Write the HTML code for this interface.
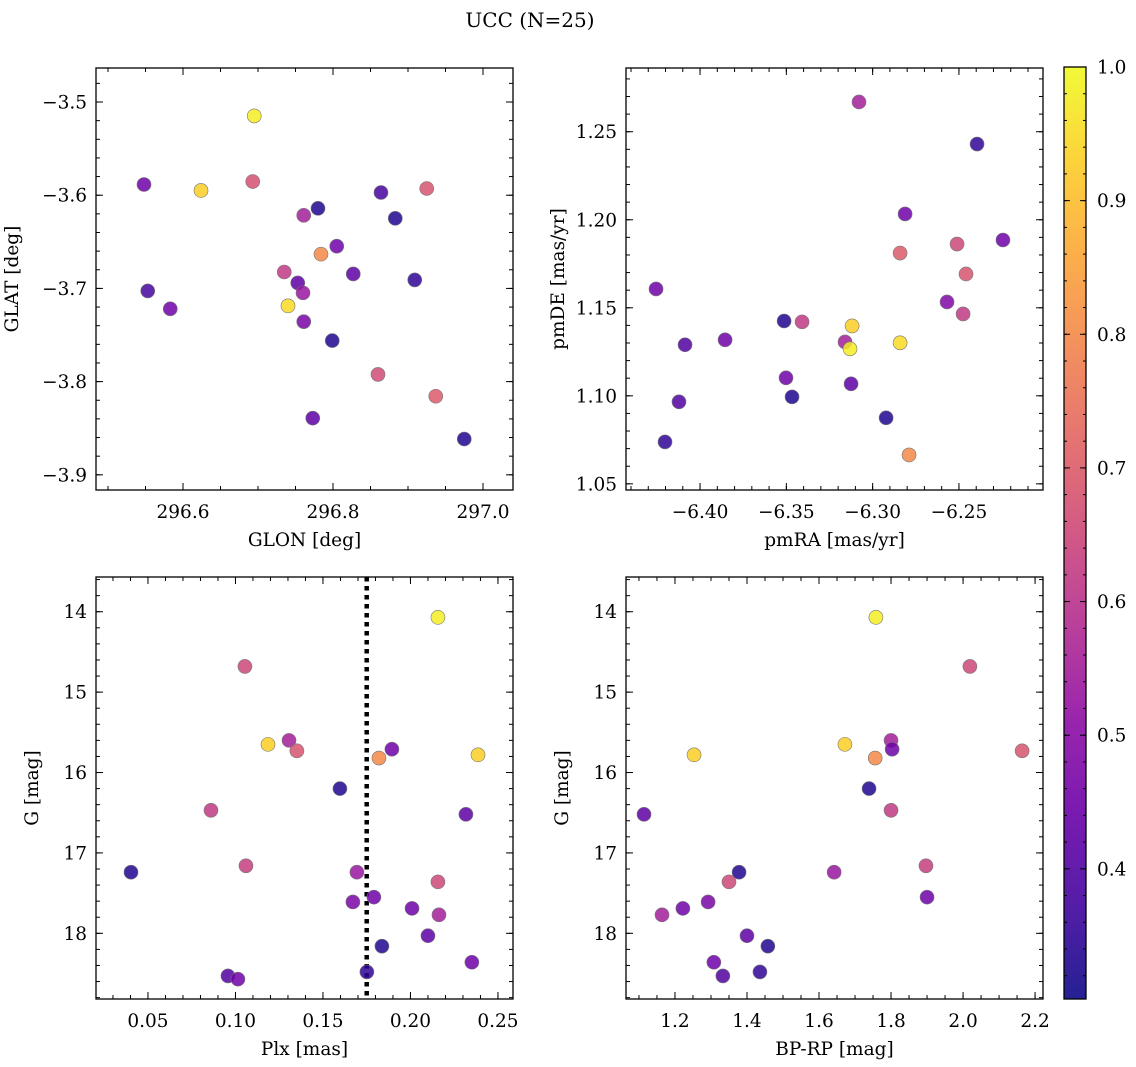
<!DOCTYPE html>
<html><head><meta charset="utf-8">
<style>
html,body{margin:0;padding:0;background:#fff;}
svg{display:block;font-family:"DejaVu Serif","Liberation Serif",serif;}
</style></head>
<body>
<svg id="fig" width="1136" height="1067" viewBox="0 0 1136 1067" xmlns="http://www.w3.org/2000/svg">
<text x="530" y="27" font-size="20" text-anchor="middle">UCC (N=25)</text>
</svg>
<script>
// ---- data ----
const glon = [296.695,296.548,296.624,296.693,296.925,296.864,296.780,296.761,296.883,296.805,296.784,296.735,296.827,296.753,296.909,296.553,296.740,296.760,296.583,296.761,296.799,296.860,296.937,296.773,296.975];
const glat = [-3.5149,-3.5885,-3.5949,-3.5853,-3.5928,-3.5971,-3.6141,-3.6216,-3.6248,-3.6547,-3.6632,-3.6824,-3.6845,-3.6941,-3.6909,-3.7027,-3.7187,-3.7048,-3.7219,-3.7357,-3.756,-3.7923,-3.8157,-3.8392,-3.8616];
const probA = [0.98,0.45,0.93,0.67,0.68,0.38,0.33,0.55,0.33,0.45,0.80,0.62,0.42,0.42,0.35,0.38,0.95,0.53,0.45,0.47,0.33,0.66,0.70,0.42,0.33];

const pmra = [-6.3079,-6.2395,-6.2812,-6.2245,-6.2511,-6.2841,-6.2459,-6.4255,-6.2569,-6.2476,-6.3513,-6.3409,-6.3119,-6.316,-6.2841,-6.3855,-6.4087,-6.3131,-6.3502,-6.3125,-6.3467,-6.4122,-6.2922,-6.4203,-6.2789];
const pmde = [1.2669,1.243,1.2033,1.1885,1.1862,1.1811,1.1692,1.1607,1.1533,1.1465,1.1425,1.142,1.1397,1.1306,1.1301,1.1318,1.129,1.1267,1.1102,1.1068,1.0994,1.0966,1.0875,1.0738,1.0664];
const probB = [0.55,0.35,0.45,0.45,0.65,0.70,0.68,0.45,0.48,0.62,0.33,0.62,0.93,0.55,0.95,0.45,0.40,0.98,0.45,0.42,0.33,0.40,0.33,0.35,0.80];

const plx = [0.2157,0.1054,0.1306,0.1186,0.1351,0.1894,0.2386,0.182,0.1597,0.086,0.2317,0.106,0.0403,0.1694,0.2157,0.1791,0.1671,0.2009,0.2163,0.21,0.1837,0.2351,0.1751,0.0957,0.1014];
const gmag = [14.07,14.68,15.60,15.65,15.73,15.71,15.78,15.82,16.2,16.47,16.52,17.16,17.24,17.24,17.36,17.55,17.61,17.69,17.77,18.03,18.16,18.36,18.48,18.53,18.57];
const probC = [0.98,0.65,0.55,0.93,0.68,0.45,0.93,0.80,0.33,0.62,0.42,0.63,0.33,0.53,0.65,0.45,0.47,0.45,0.55,0.42,0.33,0.45,0.35,0.40,0.45];

const bprp = [1.758,2.019,1.80,1.672,2.164,1.803,1.253,1.756,1.739,1.80,1.114,1.897,1.378,1.642,1.35,1.90,1.292,1.222,1.164,1.40,1.458,1.308,1.436,1.333];
const gmag4 = [14.07,14.68,15.60,15.65,15.73,15.71,15.78,15.82,16.2,16.47,16.52,17.16,17.24,17.24,17.36,17.55,17.61,17.69,17.77,18.03,18.16,18.36,18.48,18.53];
const probD = [0.98,0.65,0.55,0.93,0.68,0.45,0.93,0.80,0.33,0.62,0.42,0.63,0.33,0.53,0.65,0.45,0.47,0.45,0.55,0.42,0.33,0.45,0.35,0.40];

const plxCut = 0.175;
const cbTicks = [0.4,0.5,0.6,0.7,0.8,0.9,1.0];
const cbMin = 0.3026, cbMax = 1.0;

// ---- helpers ----
const NS = "http://www.w3.org/2000/svg";
const svg = document.getElementById('fig');
function mk(tag, attrs, parent){const e=document.createElementNS(NS,tag);for(const k in attrs)e.setAttribute(k,attrs[k]);(parent||svg).appendChild(e);return e;}
const stops=[[13,8,135],[65,4,157],[106,0,168],[143,13,164],[177,42,144],[204,71,120],[225,100,98],[242,132,75],[252,166,54],[252,206,37],[240,249,33]];
function plasma(t){t=Math.max(0,Math.min(1,t));const s=t*10,i=Math.min(9,Math.floor(s)),f=s-i;const a=stops[i],b=stops[i+1];return `rgb(${Math.round(a[0]+(b[0]-a[0])*f)},${Math.round(a[1]+(b[1]-a[1])*f)},${Math.round(a[2]+(b[2]-a[2])*f)})`;}
function cval(v){return plasma((v-cbMin)/(cbMax-cbMin));}
function fmt(v,d){const s=Math.abs(v).toFixed(d);return (v<-1e-9?"\u2212":"")+s;}

const FS = 18.5;
function panel(cfg){
  const {x0,y0,x1,y1,xmin,xmax,ymin,ymax,invY,name}=cfg;
  const g=mk('g',{});
  
  
  const sx=v=>x0+(v-xmin)/(xmax-xmin)*(x1-x0);
  const sy=v=>invY? y0+(v-ymin)/(ymax-ymin)*(y1-y0) : y1-(v-ymin)/(ymax-ymin)*(y1-y0);
  const tg=mk('g',{stroke:'#000','stroke-width':1},g);
  function ticksX(step,len,labels,dec){
    const st=Math.ceil(xmin/step-1e-6);
    for(let k=st;k*step<=xmax+1e-9;k++){const v=k*step,x=sx(v);
      mk('line',{x1:x,x2:x,y1:y1,y2:y1-len},tg);mk('line',{x1:x,x2:x,y1:y0,y2:y0+len},tg);
      if(labels){const t=mk('text',{x:x,y:y1+28,'font-size':FS,'text-anchor':'middle',stroke:'none',fill:'#000'},g);t.textContent=fmt(v,dec);
        
        }
    }}
  function ticksY(step,len,labels,dec){
    const st=Math.ceil(ymin/step-1e-6);
    for(let k=st;k*step<=ymax+1e-9;k++){const v=k*step,y=sy(v);
      mk('line',{x1:x0,x2:x0+len,y1:y,y2:y},tg);mk('line',{x1:x1,x2:x1-len,y1:y,y2:y},tg);
      if(labels){const t=mk('text',{x:x0-9,y:y+6.5,'font-size':FS,'text-anchor':'end',stroke:'none',fill:'#000'},g);t.textContent=fmt(v,dec);
        
        }
    }}
  ticksX(cfg.xminor,4,false);ticksX(cfg.xmajor,7,true,cfg.xdec);
  ticksY(cfg.yminor,4,false);ticksY(cfg.ymajor,7,true,cfg.ydec);
  const fr=mk('rect',{x:x0,y:y0,width:x1-x0,height:y1-y0,fill:'none',stroke:'#000','stroke-width':1.3},g);
  
  
  const xl=mk('text',{x:(x0+x1)/2,y:y1+56,'font-size':FS,'text-anchor':'middle'},g);xl.textContent=cfg.xlabel;
  
  
  const yx=x0-cfg.ylabOff;
  const yl=mk('text',{x:yx,y:(y0+y1)/2,'font-size':FS,'text-anchor':'middle',transform:`rotate(-90 ${yx} ${(y0+y1)/2})`},g);yl.textContent=cfg.ylabel;
  
  
  if(cfg.vline!==undefined){
    const l=mk('line',{x1:sx(cfg.vline),x2:sx(cfg.vline),y1:y0,y2:y1,stroke:'#000','stroke-width':4.5,'stroke-dasharray':'4.5 4.5'},g);
    
    
  }
  const pg=mk('g',{},g);
  for(let i=0;i<cfg.xs.length;i++){
    const c=mk('circle',{cx:sx(cfg.xs[i]),cy:sy(cfg.ys[i]),r:7,fill:cval(cfg.cs[i]),'fill-opacity':0.85,stroke:'#777','stroke-width':0.6},pg);
    
    
  }
}

panel({name:'glon-glat-panel',x0:96,y0:68,x1:513,y1:490,xmin:296.484,xmax:297.04,ymin:-3.9163,ymax:-3.4635,invY:false,
  xmajor:0.2,xminor:0.05,xdec:1,ymajor:0.1,yminor:0.02,ydec:1,xlabel:'GLON [deg]',ylabel:'GLAT [deg]',ylabOff:78,xs:glon,ys:glat,cs:probA});
panel({name:'pm-panel',x0:626,y0:68,x1:1043,y1:490,xmin:-6.4429,xmax:-6.2013,ymin:1.0465,ymax:1.2862,invY:false,
  xmajor:0.05,xminor:0.01,xdec:2,ymajor:0.05,yminor:0.01,ydec:2,xlabel:'pmRA [mas/yr]',ylabel:'pmDE [mas/yr]',ylabOff:62,xs:pmra,ys:pmde,cs:probB});
panel({name:'plx-g-panel',x0:96,y0:577,x1:513,y1:999,xmin:0.0203,xmax:0.2586,ymin:13.568,ymax:18.817,invY:true,
  xmajor:0.05,xminor:0.01,xdec:2,ymajor:1,yminor:0.2,ydec:0,xlabel:'Plx [mas]',ylabel:'G [mag]',ylabOff:58,xs:plx,ys:gmag,cs:probC,vline:plxCut});
panel({name:'cmd-panel',x0:626,y0:577,x1:1043,y1:999,xmin:1.064,xmax:2.222,ymin:13.568,ymax:18.817,invY:true,
  xmajor:0.2,xminor:0.05,xdec:1,ymajor:1,yminor:0.2,ydec:0,xlabel:'BP-RP [mag]',ylabel:'G [mag]',ylabOff:58,xs:bprp,ys:gmag4,cs:probD});

// colorbar
(function(){
  const cx0=1064,cx1=1086,cy0=67,cy1=999;
  const g=mk('g',{});
  
  
  const defs=mk('defs',{},g);
  const lg=mk('linearGradient',{id:'cbg',x1:0,y1:1,x2:0,y2:0},defs);
  for(let i=0;i<=20;i++){mk('stop',{offset:(i/20),'stop-color':plasma(i/20),'stop-opacity':0.9},lg);}
  mk('rect',{x:cx0,y:cy0,width:cx1-cx0,height:cy1-cy0,fill:'url(#cbg)'},g);
  const sy=v=>cy1-(v-cbMin)/(cbMax-cbMin)*(cy1-cy0);
  for(let v=0.32;v<=1.0001;v+=0.02){const y=sy(v);mk('line',{x1:cx0,x2:cx0+3,y1:y,y2:y,stroke:'#000'},g);mk('line',{x1:cx1,x2:cx1-3,y1:y,y2:y,stroke:'#000'},g);}
  cbTicks.forEach(v=>{const y=sy(v);
    mk('line',{x1:cx0,x2:cx0+6,y1:y,y2:y,stroke:'#000'},g);mk('line',{x1:cx1,x2:cx1-6,y1:y,y2:y,stroke:'#000'},g);
    const t=mk('text',{x:cx1+11,y:y+6.5,'font-size':FS},g);t.textContent=v.toFixed(1);
    
    
  });
  mk('rect',{x:cx0,y:cy0,width:cx1-cx0,height:cy1-cy0,fill:'none',stroke:'#000','stroke-width':1.3},g);
})();
</script>
</body></html>
